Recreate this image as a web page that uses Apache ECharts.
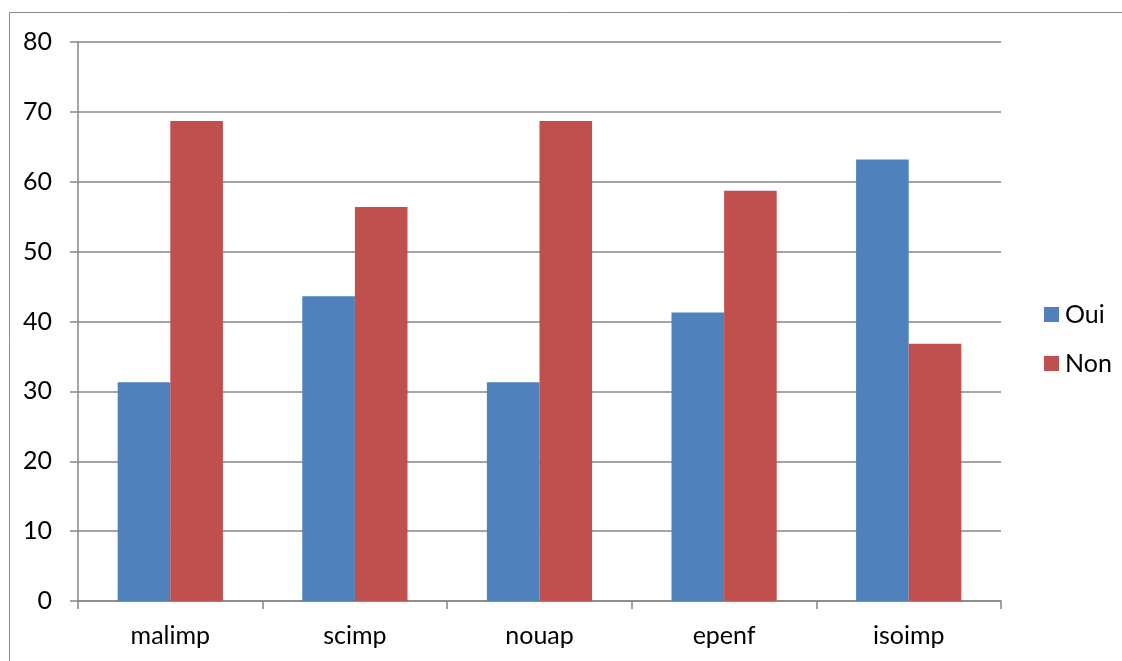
<!DOCTYPE html>
<html>
<head>
<meta charset="utf-8">
<script src="https://cdn.jsdelivr.net/npm/echarts@6/dist/echarts.min.js"></script>
<style>
  html, body { margin: 0; padding: 0; background: #fff; }
  #chart { width: 1122px; height: 661px; }
</style>
</head>
<body>
<div id="chart"></div>
<script>
// Categories and percentages per answer
const categories = ['malimp', 'scimp', 'nouap', 'epenf', 'isoimp'];
const ouiValues = [31.3, 43.6, 31.3, 41.3, 63.2];
const nonValues = [68.7, 56.4, 68.7, 58.7, 36.8];
const seriesNames = ['Oui', 'Non'];

const FONT = 'Lato, "Open Sans", sans-serif';
const FONT_SIZE = 25;
const AXIS_GRAY = '#868686';

const chart = echarts.init(document.getElementById('chart'), null, { renderer: 'canvas' });

chart.setOption({
  backgroundColor: '#ffffff',
  animation: false,
  graphic: [{
    type: 'rect',
    shape: { x: 9.5, y: 12.5, width: 1130, height: 700 },
    style: { fill: 'none', stroke: '#8c8c8c', lineWidth: 1 },
    silent: true
  }],
  grid: { left: 78, right: 121, top: 42, bottom: 60, containLabel: false },
  legend: {
    orient: 'vertical',
    left: 1044,
    top: 302,
    padding: 0,
    itemWidth: 15,
    itemHeight: 15,
    itemGap: 24,
    icon: 'rect',
    textStyle: { fontFamily: FONT, fontSize: FONT_SIZE, lineHeight: 25, color: '#000', padding: [0, 0, 0, 1] },
    data: seriesNames
  },
  xAxis: {
    type: 'category',
    data: categories,
    axisLine: { lineStyle: { color: AXIS_GRAY, width: 1.5 } },
    axisTick: { show: true, length: 8, alignWithLabel: false, lineStyle: { color: AXIS_GRAY, width: 1.5 } },
    axisLabel: { fontFamily: FONT, fontSize: FONT_SIZE, color: '#000', margin: 22 }
  },
  yAxis: {
    type: 'value',
    min: 0,
    max: 80,
    interval: 10,
    axisLine: { show: true, lineStyle: { color: AXIS_GRAY, width: 1.5 } },
    axisTick: { show: true, length: 8, lineStyle: { color: AXIS_GRAY, width: 1.5 } },
    splitLine: { lineStyle: { color: AXIS_GRAY, width: 1.5 } },
    axisLabel: { fontFamily: FONT, fontSize: FONT_SIZE, color: '#000', margin: 26 }
  },
  series: [
    {
      name: seriesNames[0],
      type: 'bar',
      data: ouiValues,
      barGap: '0%',
      barCategoryGap: '43%',
      itemStyle: { color: '#4f81bd' }
    },
    {
      name: seriesNames[1],
      type: 'bar',
      data: nonValues,
      itemStyle: { color: '#c0504d' }
    }
  ]
});
</script>
</body>
</html>
